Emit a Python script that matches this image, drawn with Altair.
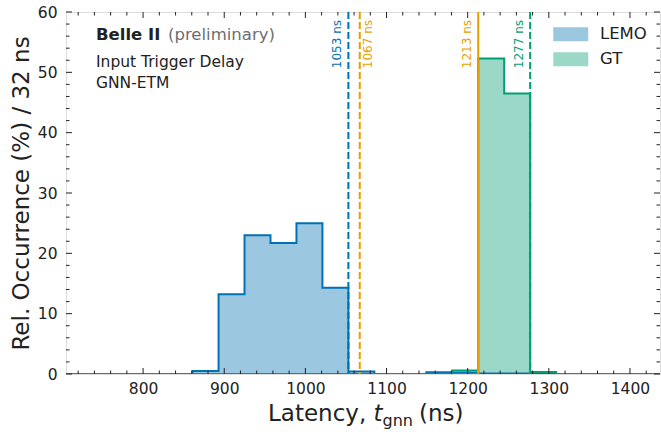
import altair as alt
import pandas as pd

# ---------------- data ----------------
X_DOMAIN = [705, 1437]
Y_DOMAIN = [0, 60]
BIN_EDGES = [861, 893, 925, 957, 989, 1021, 1053, 1085, 1117, 1149, 1181, 1213, 1245, 1277, 1309]
LEMO_PCT = [0.5, 13.2, 23.0, 21.7, 25.0, 14.3, 0.4, 0.0, 0.0, 0.3, 0.2, 0.1, 0.1, 0.0]
GT_PCT = [0.0, 0.0, 0.0, 0.0, 0.0, 0.0, 0.0, 0.0, 0.0, 0.0, 0.6, 52.3, 46.5, 0.35]
SERIES = ["LEMO", "GT"]
FILL_COLORS = ["#9BC7E1", "#9BD8C7"]
EDGE_COLORS = ["#0072B2", "#009E73"]

VLINE_X = [1053, 1067, 1213, 1277]
VLINE_LABELS = ["1053 ns", "1067 ns", "1213 ns", "1277 ns"]
VLINE_COLORS = ["#0072B2", "#E69F00", "#E69F00", "#009E73"]
VLINE_DASHED = [True, True, False, True]
VLINE_SIDE = ["left", "right", "left", "left"]

X_MAJOR = [800, 900, 1000, 1100, 1200, 1300, 1400]
X_MINOR = [v for v in range(720, 1437, 20) if v % 100 != 0]
Y_MAJOR = [0, 10, 20, 30, 40, 50, 60]
Y_MINOR = [v for v in range(2, 60, 2) if v % 10 != 0]

W, H = 594, 362
FONT = "DejaVu Sans"

# ---------------- tables ----------------
rows = []
for name, vals in zip(SERIES, [LEMO_PCT, GT_PCT]):
    rows.append({"series": name, "x": X_DOMAIN[0], "y": 0.0})
    for e, v in zip(BIN_EDGES[:-1], vals):
        rows.append({"series": name, "x": e, "y": v})
    rows.append({"series": name, "x": BIN_EDGES[-1], "y": 0.0})
    rows.append({"series": name, "x": X_DOMAIN[1], "y": 0.0})
hist = pd.DataFrame(rows)

xs = alt.Scale(domain=X_DOMAIN, nice=False, zero=False)
ys = alt.Scale(domain=Y_DOMAIN, nice=False)

x_enc = alt.X("x:Q", scale=xs,
              axis=alt.Axis(values=X_MAJOR, format="d", title=None, ticks=False, domain=False,
                            grid=False, labelFontSize=15.5, labelPadding=7,
                            labelColor="#222222", labelFont=FONT))
y_enc = alt.Y("y:Q", scale=ys, stack=None,
              axis=alt.Axis(values=Y_MAJOR, format="d", title="Rel. Occurrence (%) / 32 ns",
                            ticks=False, domain=False, grid=False,
                            labelFontSize=15.5, labelPadding=9, labelColor="#222222",
                            labelFont=FONT, titleFont=FONT, titleFontSize=23,
                            titleFontWeight="normal", titleColor="#222222",
                            titlePadding=4))

color_fill = alt.Color("series:N", sort=SERIES,
                       scale=alt.Scale(domain=SERIES, range=FILL_COLORS),
                       legend=alt.Legend(title=None, orient="none", legendX=486, legendY=14,
                                         symbolType="M-2.5,-1H2.5V1H-2.5Z", symbolSize=196,
                                         symbolStrokeWidth=0, symbolOffset=10.5,
                                         labelOffset=21, labelFontSize=16.5, labelFont=FONT,
                                         labelColor="#222222", rowPadding=8, padding=0))

areas = []
for i, name in enumerate(SERIES):
    areas.append(alt.Chart(hist[hist.series == name]).mark_area(
        interpolate="step-after", opacity=1, clip=True).encode(
        x=x_enc if i == 0 else alt.X("x:Q", scale=xs),
        y=y_enc if i == 0 else alt.Y("y:Q", scale=ys, stack=None),
        color=color_fill))

lines = []
for name, col in zip(SERIES, EDGE_COLORS):
    lines.append(alt.Chart(hist[hist.series == name]).mark_line(
        interpolate="step-after", color=col, strokeWidth=2, clip=True).encode(
        x=alt.X("x:Q", scale=xs), y=alt.Y("y:Q", scale=ys)))

vlayers = []
for xv, lab, col, dashed, side in zip(VLINE_X, VLINE_LABELS, VLINE_COLORS, VLINE_DASHED, VLINE_SIDE):
    kw = {"strokeDash": [7, 3]} if dashed else {}
    vlayers.append(alt.Chart(pd.DataFrame({"x": [xv]})).mark_rule(color=col, strokeWidth=2, **kw).encode(
        x=alt.X("x:Q", scale=xs), y=alt.value(0), y2=alt.value(H)))
    vlayers.append(alt.Chart(pd.DataFrame({"x": [xv], "t": [lab]})).mark_text(
        angle=270, align="right", baseline="bottom" if side == "left" else "top",
        dy=-4 if side == "left" else 3, fontSize=12, font=FONT, color=col).encode(
        x=alt.X("x:Q", scale=xs), y=alt.value(8), text="t:N"))

# ticks (inward, all four sides)
def tick_layer(vals, axis, length):
    df = pd.DataFrame({"v": vals})
    if axis == "x":
        bot = alt.Chart(df).mark_rule(color="#222222", strokeWidth=1).encode(
            x=alt.X("v:Q", scale=xs), y=alt.value(H), y2=alt.value(H - length))
        top = alt.Chart(df).mark_rule(color="#222222", strokeWidth=1).encode(
            x=alt.X("v:Q", scale=xs), y=alt.value(0), y2=alt.value(length))
    else:
        bot = alt.Chart(df).mark_rule(color="#222222", strokeWidth=1).encode(
            y=alt.Y("v:Q", scale=ys), x=alt.value(0), x2=alt.value(length))
        top = alt.Chart(df).mark_rule(color="#222222", strokeWidth=1).encode(
            y=alt.Y("v:Q", scale=ys), x=alt.value(W), x2=alt.value(W - length))
    return [bot, top]

ticks = (tick_layer(X_MAJOR, "x", 6) + tick_layer(X_MINOR, "x", 3.5)
         + tick_layer(Y_MAJOR, "y", 6) + tick_layer(Y_MINOR, "y", 3.5))

one = pd.DataFrame({"a": [0]})
def txt(s, x, y, size, weight="normal", style="normal", color="#222222", align="left"):
    return alt.Chart(one).mark_text(text=s, fontSize=size, fontWeight=weight, fontStyle=style,
                                    font=FONT, color=color, align=align, baseline="alphabetic").encode(
        x=alt.value(x), y=alt.value(y))

annots = [
    txt("Belle II", 30, 28, 16.5, weight="bold"),
    txt("(preliminary)", 102, 28, 16.5, color="#6e6e6e"),
    txt("Input Trigger Delay", 30, 54.5, 15.5),
    txt("GNN-ETM", 30, 76, 15.5),
    # x-axis title: Latency, t_gnn (ns)
    txt("Latency,", 202, 409, 23),
    txt("t", 307.5, 409, 23, style="italic"),
    txt("gnn", 316.5, 414, 16),
    txt("(ns)", 353, 409, 23),
]

chart = alt.layer(*areas, *lines, *vlayers, *ticks, *annots).properties(
    width=W, height=H,
    autosize=alt.AutoSizeParams(type="none"),
    padding={"left": 66, "top": 12, "right": 1, "bottom": 58},
).configure_view(stroke="#222222", strokeWidth=1.2).configure(font=FONT)

chart.save("out.html", embed_options={"renderer": "svg", "actions": False})
